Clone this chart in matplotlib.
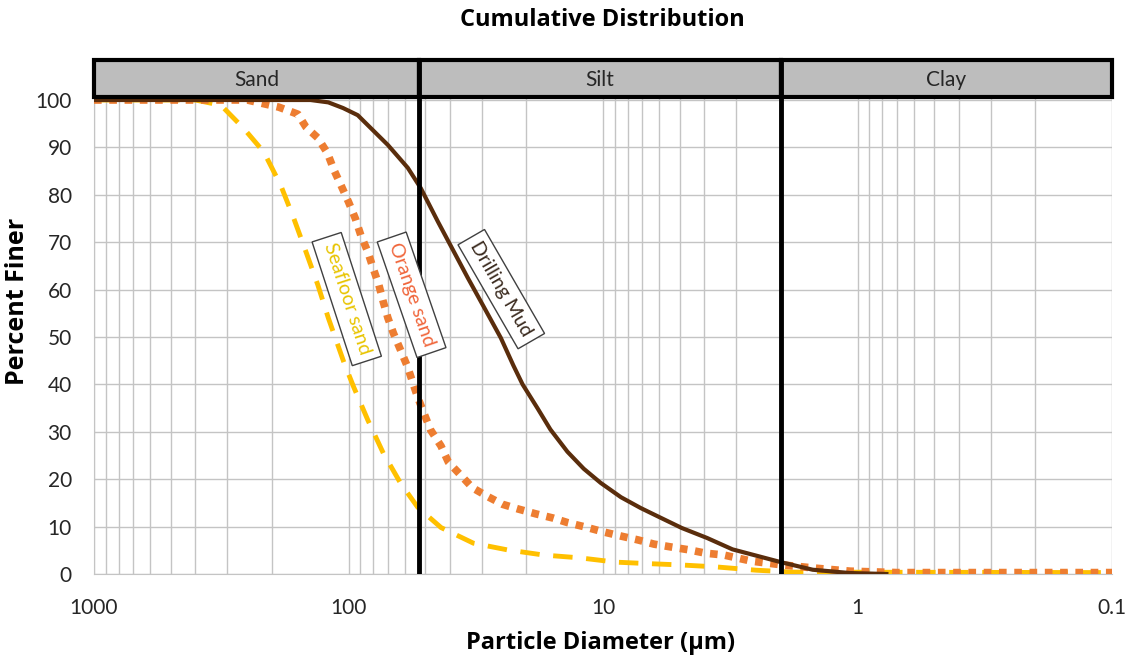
import matplotlib.pyplot as plt
from matplotlib.patches import Rectangle
from matplotlib.ticker import LogLocator, NullFormatter

plt.rcParams['font.family'] = ['Lato', 'DejaVu Sans']

# particle diameter (um) vs percent finer
drill_d = [1000, 250, 141, 120, 105, 92, 84, 70, 58.5, 52, 44.5, 34, 29.5, 25.2,
           22.5, 20.7, 18.1, 16.1, 13.8, 11.9, 10.2, 8.5, 7.1, 5.9, 4.9, 3.9,
           3.1, 2.0, 1.5, 1.07, 0.77]
drill_p = [100, 100, 100, 99.5, 98.3, 96.8, 94.7, 90.5, 85.7, 81.4, 74.3, 62.5,
           56.5, 49.8, 44, 40, 35, 30.5, 25.8, 22.2, 19.2, 16.2, 13.9, 11.8, 9.7,
           7.6, 5.2, 2.5, 0.9, 0.2, 0]

orange_d = [1000, 250, 188, 158, 147, 132, 121, 114, 107, 100, 94, 89.5, 84, 80,
            76, 73, 70, 66.6, 62.5, 58.6, 53.5, 50.6, 47.6, 43.3, 40.5, 36.3,
            32.6, 28.3, 24.8, 21.5, 18.4, 15.7, 13.7, 11.7, 10, 8.5, 7.3, 6.3,
            5.4, 4.6, 3.96, 3.35, 2.6, 1.96, 1.44, 1.07, 0.7, 0.1]
orange_p = [100, 100, 98.5, 97, 94.3, 92, 88.8, 85.2, 82, 78.5, 75, 71.5, 68,
            64.5, 61, 57.4, 54, 50.8, 47.3, 43.7, 37.3, 34, 30.4, 27, 23.6, 20.9,
            18.2, 16.3, 14.7, 13.7, 12.7, 11.8, 10.8, 9.9, 8.9, 8.0, 7.2, 6.3,
            5.7, 5.1, 4.4, 4.0, 2.7, 1.9, 1.2, 0.6, 0.3, 0.3]

sea_d = [1000, 400, 317, 258, 215, 184.6, 164, 147, 132, 120, 104, 95.5, 84, 73,
         62.5, 53.5, 43.3, 32.3, 23.8, 17.1, 12.3, 8.9, 6.7, 4.9, 3.6, 2.5,
         1.8, 0.1]
sea_p = [100, 100, 98.9, 94, 89, 82, 75, 68, 61, 54, 44.5, 39.5, 32.5, 25.5,
         19.2, 14.1, 9.8, 6.5, 5.1, 4, 3.4, 2.5, 2.2, 1.9, 1.5, 0.8, 0.4, 0.3]

zones = ['Sand', 'Silt', 'Clay']
zone_edges = [1000, 53, 2, 0.1]

xticks = [1000, 100, 10, 1, 0.1]
xtick_labels = ['1000', '100', '10', '1', '0.1']

fig = plt.figure(figsize=(11.3, 6.6), dpi=100)
ax = fig.add_axes([94/1130, 86/660, 1018/1130, 514/660])
ax.set_xscale('log')
ax.set_xlim(1000, 0.1)
ax.set_ylim(0, 108.44)

ax.set_xticks(xticks)
ax.set_xticklabels(xtick_labels)
ax.xaxis.set_minor_locator(LogLocator(base=10, subs=range(2, 10)))
ax.xaxis.set_minor_formatter(NullFormatter())
ax.set_yticks(range(0, 101, 10))
ax.grid(True, which='both', axis='x', color='#c4c4c4', lw=1)
ax.grid(True, which='major', axis='y', color='#c4c4c4', lw=1)
ax.tick_params(which='both', length=0, labelcolor='#262626')
ax.tick_params(axis='y', pad=16, labelsize=15)
ax.tick_params(axis='x', pad=17, labelsize=15)
for s in ['top', 'right']:
    ax.spines[s].set_visible(False)
for s in ['left', 'bottom']:
    ax.spines[s].set_color('#c4c4c4')

ax.plot(sea_d, sea_p, color='#ffc000', lw=3.5, ls=(0, (4, 2.8)), zorder=3)
ax.plot(orange_d, orange_p, color='#ed7d31', lw=5.5, ls=(0, (1, 1)),
        dash_capstyle='butt', zorder=4)
ax.plot(drill_d, drill_p, color='#5a2d0c', lw=3, zorder=5)

# header band
for i, name in enumerate(zones):
    a, b = zone_edges[i], zone_edges[i + 1]
    ax.add_patch(Rectangle((b, 100.6), a - b, 7.8, facecolor='#bdbdbd',
                           edgecolor='k', lw=3, zorder=6, clip_on=False))
    ax.text((a * b) ** 0.5, 104.3, name, ha='center', va='center',
            fontsize=15, color='#262626', zorder=7)
ax.vlines(zone_edges[1:3], 0, 108.4, colors='k', lw=3.5, zorder=7)

box = dict(boxstyle='square,pad=0.35', facecolor='white', edgecolor='#404040', lw=1)
ax.text(101.6, 58, 'Seafloor sand', rotation=-72, color='#e8c400', fontsize=14,
        ha='center', va='center', rotation_mode='anchor', bbox=box, zorder=8)
ax.text(56.5, 58.9, 'Orange sand', rotation=-71, color='#f0653a', fontsize=14,
        ha='center', va='center', rotation_mode='anchor', bbox=box, zorder=8)
ax.text(25.1, 60.1, 'Drilling Mud', rotation=-60, color='#3b2b1f', fontsize=14,
        ha='center', va='center', rotation_mode='anchor', bbox=box, zorder=8)

bold = dict(family=['Open Sans', 'DejaVu Sans'], fontweight='bold')
fig.text(602/1130, 1 - 20/660, 'Cumulative Distribution', ha='center',
         va='center', fontsize=17, **bold)
fig.text(601/1130, 1 - 643/660, 'Particle Diameter (µm)', ha='center',
         va='center', fontsize=17, **bold)
fig.text(18/1130, 1 - 301/660, 'Percent Finer', ha='center', va='center',
         rotation=90, fontsize=18, **bold)

fig.savefig('out.png', dpi=100)
